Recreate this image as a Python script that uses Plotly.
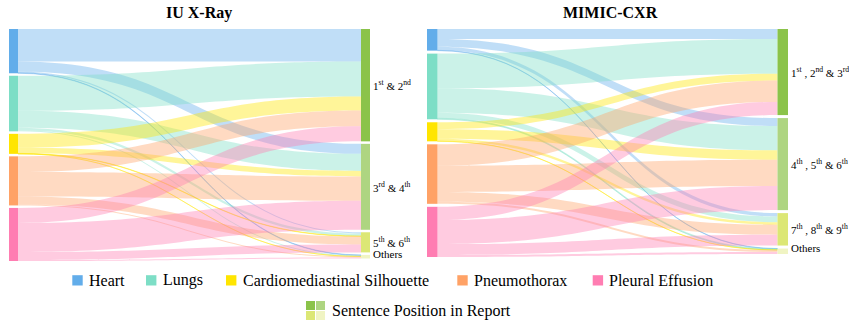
import numpy as np
import plotly.graph_objects as go

W, H = 849, 324
FONT = "Liberation Serif"

# ---- data -----------------------------------------------------------------
findings = ["Heart", "Lungs", "Cardiomediastinal Silhouette", "Pneumothorax", "Pleural Effusion"]
finding_colors = ["#62ADEA", "#7DDEC6", "#FFE500", "#FFA266", "#FF7DB2"]

iu_buckets = ["1<sup>st</sup> & 2<sup>nd</sup>", "3<sup>rd</sup> & 4<sup>th</sup>",
              "5<sup>th</sup> & 6<sup>th</sup>", "Others"]
mimic_buckets = ["1<sup>st</sup> , 2<sup>nd</sup> & 3<sup>rd</sup>",
                 "4<sup>th</sup> , 5<sup>th</sup> & 6<sup>th</sup>",
                 "7<sup>th</sup> , 8<sup>th</sup> & 9<sup>th</sup>", "Others"]
bucket_colors = ["#8BC34A", "#AED581", "#DCE775", "#F0F4C3"]

# sentence counts per finding, split by sentence-position bucket
iu_heart = [32.5, 10.0, 1.2, 0.5]
iu_lungs = [35.0, 17.0, 2.5, 1.0]
iu_cardio = [14.0, 5.5, 0.4, 0.1]
iu_pneumo = [15.7, 24.3, 8.0, 1.0]
iu_pleural = [15.0, 29.0, 8.0, 1.0]

mimic_heart = [10.0, 8.0, 3.5, 0.3]
mimic_lungs = [35.0, 24.5, 5.7, 1.0]
mimic_cardio = [7.0, 9.5, 2.5, 0.2]
mimic_pneumo = [21.5, 26.5, 10.0, 2.0]
mimic_pleural = [13.3, 24.3, 11.0, 2.0]

iu_flows = [iu_heart, iu_lungs, iu_cardio, iu_pneumo, iu_pleural]
mimic_flows = [mimic_heart, mimic_lungs, mimic_cardio, mimic_pneumo, mimic_pleural]


def rgba(hex_color, a):
    h = hex_color.lstrip("#")
    r, g, b = (int(h[i:i + 2], 16) for i in (0, 2, 4))
    return f"rgba({r},{g},{b},{a})"


def build_sankey(flows, box, pad, thick):
    """Two-column sankey laid out top-down inside a pixel box."""
    left, top, right, bottom = box
    w, h = right - left, bottom - top
    f = np.array(flows, dtype=float)
    src_tot, tgt_tot = f.sum(1), f.sum(0)
    ns, nt = len(src_tot), len(tgt_tot)
    total = f.sum()
    ky = min((h - (ns - 1) * pad) / total, (h - (nt - 1) * pad) / total)

    def centres(tots):
        out, y = [], 0.0
        for t in tots:
            out.append(y + t * ky / 2)
            y += t * ky + pad
        return out

    ys = centres(src_tot) + centres(tgt_tot)
    xs = [thick / 2 / w] * ns + [1 - thick / 2 / w] * nt
    src = [i for i in range(ns) for j in range(nt)]
    tgt = [ns + j for i in range(ns) for j in range(nt)]
    trace = go.Sankey(
        domain=dict(x=[left / W, right / W], y=[1 - bottom / H, 1 - top / H]),
        arrangement="fixed",
        hoverinfo="none",
        node=dict(
            label=[""] * (ns + nt),
            x=xs,
            y=[v / h for v in ys],
            pad=pad,
            thickness=thick,
            color=finding_colors + bucket_colors,
            line=dict(width=0),
            hoverinfo="none",
        ),
        link=dict(
            source=src,
            target=tgt,
            value=f.flatten().tolist(),
            color=[rgba(finding_colors[i], 0.4) for i in src],
            hoverinfo="none",
        ),
    )
    tgt_centres = [top + c for c in ys[ns:]]
    return trace, tgt_centres


iu_box = (9, 29, 370, 261)
mimic_box = (427, 29, 788, 257)
iu_trace, iu_cy = build_sankey(iu_flows, iu_box, 2.5, 9)
mimic_trace, mimic_cy = build_sankey(mimic_flows, mimic_box, 3.0, 10.5)

fig = go.Figure([iu_trace, mimic_trace])


def px_x(x):
    return x / W


def px_y(y):
    return 1 - y / H


def text(s, x, y, size, xanchor="left", yshift=0):
    fig.add_annotation(text=s, x=px_x(x), y=px_y(y), xref="paper", yref="paper",
                       xanchor=xanchor, yanchor="middle", showarrow=False, yshift=yshift,
                       font=dict(family=FONT, size=size, color="black"))


# panel titles
text("<b>IU X-Ray</b>", (iu_box[0] + iu_box[2]) / 2 + 9, 13, 16, "center")
text("<b>MIMIC-CXR</b>", (mimic_box[0] + mimic_box[2]) / 2 + 3, 13, 16, "center")

# bucket labels to the right of the target nodes
for labels, cys, box in ((iu_buckets, iu_cy, iu_box), (mimic_buckets, mimic_cy, mimic_box)):
    for k, (lab, cy) in enumerate(zip(labels, cys)):
        text(lab, box[2] + 1, cy, 11, yshift=3 if k == len(labels) - 1 else 0)

# legend: findings row
legend_square_left = [72.3, 146, 226, 457.3, 592.7]
for name, col, sx in zip(findings, finding_colors, legend_square_left):
    fig.add_shape(type="rect", xref="paper", yref="paper",
                  x0=px_x(sx), x1=px_x(sx + 10.4), y0=px_y(285.5), y1=px_y(275.2),
                  fillcolor=col, line=dict(width=0))
    text(name, sx + 14.5, 280, 16)

# legend: sentence-position swatch (2x2)
sq, gap, gx, gy = 9, 1, 306, 301
for k, col in enumerate(bucket_colors):
    cx0 = gx + (k % 2) * (sq + gap)
    cy0 = gy + (k // 2) * (sq + gap)
    fig.add_shape(type="rect", xref="paper", yref="paper",
                  x0=px_x(cx0), x1=px_x(cx0 + sq), y0=px_y(cy0 + sq), y1=px_y(cy0),
                  fillcolor=col, line=dict(width=0))
text("Sentence Position in Report", 329.7, 311, 16)

fig.update_layout(
    width=W, height=H, autosize=False,
    margin=dict(l=0, r=0, t=0, b=0),
    paper_bgcolor="white", plot_bgcolor="white",
    font=dict(family=FONT),
)
fig.write_html("out.html")
